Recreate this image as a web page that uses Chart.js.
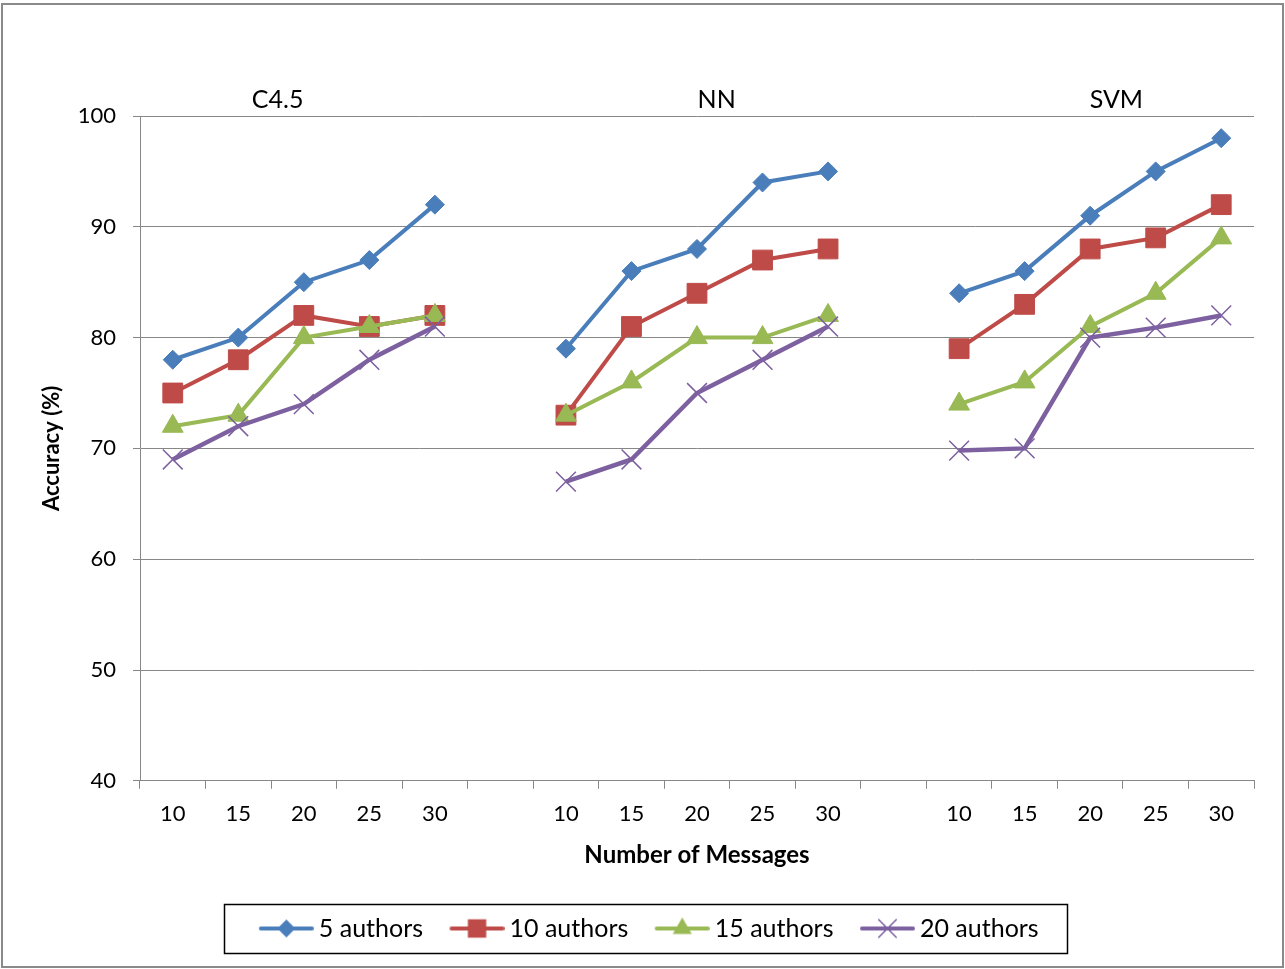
<!DOCTYPE html>
<html><head><meta charset="utf-8">
<script src="https://cdn.jsdelivr.net/npm/chart.js@4/dist/chart.umd.min.js"></script>
<style>html,body{margin:0;padding:0;background:#fff;}</style>
</head><body>
<canvas id="c" width="1285" height="969"></canvas>
<script>
// ---- data ----
const messageCounts = ['10', '15', '20', '25', '30'];
const classifiers = ['C4.5', 'NN', 'SVM'];
const seriesNames = ['5 authors', '10 authors', '15 authors', '20 authors'];
const authors5  = [[78, 80, 85, 87, 92], [79, 86, 88, 94, 95], [84, 86, 91, 95, 98]];
const authors10 = [[75, 78, 82, 81, 82], [73, 81, 84, 87, 88], [79, 83, 88, 89, 92]];
const authors15 = [[72, 73, 80, 81, 82], [73, 76, 80, 80, 82], [74, 76, 81, 84, 89]];
const authors20 = [[69, 72, 74, 78, 81], [67, 69, 75, 78, 81], [69.8, 70, 80, 80.9, 82]];
const yTicks = [40, 50, 60, 70, 80, 90, 100];

// ---- build flattened categories with a gap between classifier groups ----
const labels = classifiers.flatMap((c, i) => i < classifiers.length - 1 ? [...messageCounts, ''] : [...messageCounts]);
const flatten = groups => groups.flatMap((g, i) => i < groups.length - 1 ? [...g, null] : [...g]);
const seriesData = [authors5, authors10, authors15, authors20].map(flatten);

const colors = ['#4A7EBB', '#BE4B48', '#98B954', '#7D60A0'];
const styles = ['rectRot', 'rect', 'triangle', 'crossRot'];
const radii = [9.5, 14, 12, 14];
const legendRadii = [9, 13, 11, 13];
const FONT = 'Lato, "Open Sans", sans-serif';

// legend icon: transparent lead-in (extra item spacing) + line with marker
const ICON_LEAD = 12;
function makeIcon(color, style, r) {
  const cv = document.createElement('canvas');
  cv.width = 55 + ICON_LEAD; cv.height = 28;
  const ctx = cv.getContext('2d');
  const cx = ICON_LEAD + 27.5, cy = 14;
  ctx.strokeStyle = color; ctx.fillStyle = color;
  ctx.lineWidth = 4; ctx.lineCap = 'round';
  ctx.beginPath(); ctx.moveTo(ICON_LEAD + 2, cy); ctx.lineTo(ICON_LEAD + 53, cy); ctx.stroke();
  ctx.beginPath();
  if (style === 'rectRot') {
    ctx.moveTo(cx - r, cy); ctx.lineTo(cx, cy - r); ctx.lineTo(cx + r, cy); ctx.lineTo(cx, cy + r); ctx.closePath(); ctx.fill();
  } else if (style === 'rect') {
    const s = r * Math.SQRT1_2; ctx.rect(cx - s, cy - s, 2 * s, 2 * s); ctx.fill();
  } else if (style === 'triangle') {
    ctx.moveTo(cx, cy - r); ctx.lineTo(cx + r * 0.866, cy + r * 0.5); ctx.lineTo(cx - r * 0.866, cy + r * 0.5); ctx.closePath(); ctx.fill();
  } else {
    const s = r * Math.SQRT1_2; ctx.lineWidth = 1.5; ctx.lineCap = 'butt';
    ctx.moveTo(cx - s, cy - s); ctx.lineTo(cx + s, cy + s); ctx.moveTo(cx + s, cy - s); ctx.lineTo(cx - s, cy + s); ctx.stroke();
  }
  return cv;
}
const icons = colors.map((c, i) => makeIcon(c, styles[i], legendRadii[i]));

const datasets = seriesNames.map((name, i) => ({
  label: name,
  data: seriesData[i],
  borderColor: colors[i],
  backgroundColor: colors[i],
  borderWidth: i === 3 ? 4.5 : 4,
  pointStyle: styles[i],
  pointRadius: radii[i],
  pointHoverRadius: radii[i],
  pointBackgroundColor: colors[i],
  pointBorderColor: colors[i],
  pointBorderWidth: i === 3 ? 1.5 : 1,
  tension: 0,
  spanGaps: false,
  order: seriesNames.length - i
}));

const groupLabelPos = [1.6, 2.3, 2.4];

const framePlugin = {
  id: 'frame',
  beforeDraw(chart) {
    const ctx = chart.ctx;
    ctx.save(); ctx.fillStyle = '#fff'; ctx.fillRect(0, 0, chart.width, chart.height); ctx.restore();
  },
  afterDraw(chart) {
    const ctx = chart.ctx;
    ctx.save();
    ctx.strokeStyle = '#8a8a8a'; ctx.lineWidth = 2;
    ctx.strokeRect(2, 4, chart.width - 4, chart.height - 6);
    // legend box
    const hb = chart.legend.legendHitBoxes;
    if (hb && hb.length) {
      const left = Math.min(...hb.map(h => h.left));
      const right = Math.max(...hb.map(h => h.left + h.width));
      const cy = hb[0].top + hb[0].height / 2;
      ctx.strokeStyle = '#000'; ctx.lineWidth = 1.5;
      ctx.strokeRect(Math.round(left - 30.5) + 0.5, Math.round(cy - 24.5) + 0.5, Math.round(right - left + 58.5), 49);
    }
    // group labels
    const xs = chart.scales.x;
    ctx.fillStyle = '#000';
    ctx.font = '25px ' + FONT;
    ctx.textAlign = 'center'; ctx.textBaseline = 'alphabetic';
    classifiers.forEach((c, i) => {
      const x = xs.getPixelForValue(i * (messageCounts.length + 1) + groupLabelPos[i]);
      ctx.fillText(c, x, chart.chartArea.top - 8);
    });
    ctx.restore();
  }
};

Chart.defaults.font.family = FONT;
Chart.defaults.color = '#000';

new Chart(document.getElementById('c'), {
  type: 'line',
  data: { labels, datasets },
  options: {
    responsive: false,
    devicePixelRatio: 1,
    animation: false,
    events: [],
    layout: { padding: { left: 39, right: 31, top: 116, bottom: 18 } },
    plugins: {
      tooltip: { enabled: false },
      legend: {
        position: 'bottom',
        labels: {
          usePointStyle: true,
          pointStyleWidth: 40 + ICON_LEAD,
          padding: 22,
          color: '#000',
          font: { size: 25, family: FONT },
          generateLabels: chart => chart.data.datasets.map((ds, i) => ({
            text: ds.label, pointStyle: icons[i], fillStyle: ds.borderColor,
            strokeStyle: ds.borderColor, lineWidth: 0, hidden: false, datasetIndex: i, fontColor: '#000'
          }))
        }
      }
    },
    scales: {
      x: {
        offset: true,
        grid: { display: true, drawOnChartArea: false, drawTicks: true, tickLength: 8, offset: true, color: '#878787', lineWidth: 1 },
        border: { display: true, color: '#878787', width: 1 },
        ticks: { autoSkip: false, maxRotation: 0, padding: 12, font: { size: 22 }, color: '#000' },
        title: { display: true, text: 'Number of Messages', font: { size: 24, weight: 'bold' }, color: '#000', padding: { top: 2, bottom: 24 } }
      },
      y: {
        min: 40, max: 100,
        afterBuildTicks: s => { s.ticks = yTicks.map(v => ({ value: v })); },
        afterFit: s => { s.width = 101; },
        grid: { color: '#878787', lineWidth: 1, tickLength: 7, drawTicks: true },
        border: { display: true, color: '#878787', width: 1 },
        ticks: { padding: 17, font: { size: 22 }, color: '#000' },
        title: { display: true, text: 'Accuracy (%)', font: { size: 22, weight: 'bold' }, color: '#000', padding: 0 }
      }
    }
  },
  plugins: [framePlugin]
});
</script>
</body></html>
